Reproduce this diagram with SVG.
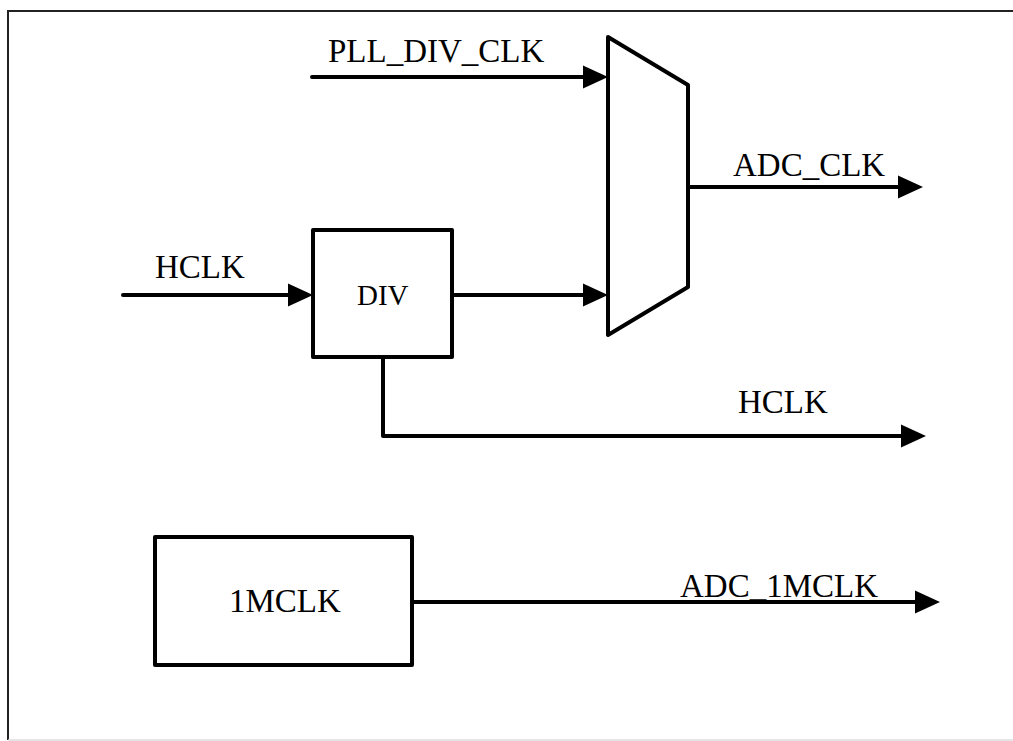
<svg xmlns="http://www.w3.org/2000/svg" width="1013" height="741" viewBox="0 0 1013 741">
<style>
.w{fill:none;stroke:#000;stroke-width:4;stroke-linecap:round;stroke-linejoin:round}
.b{fill:#fff;stroke:#000;stroke-width:4;stroke-linejoin:round}
.t{font-family:"Liberation Serif","Times New Roman",serif;font-size:33px;fill:#000}
</style>
<defs>
<marker id="ah" markerUnits="userSpaceOnUse" markerWidth="26" markerHeight="24" refX="2" refY="12" orient="auto">
<path d="M0,0.5 L25,12 L0,23.5 Z" fill="#000"/>
</marker>
</defs>
<rect width="1013" height="741" fill="#fff"/>
<g id="frame">
<path d="M8,740 L8,11 L1013,11" fill="none" stroke="#222" stroke-width="2"/>
<line x1="8" y1="740" x2="1013" y2="740" stroke="#ddd" stroke-width="1.5"/>
</g>
<g id="connectors">
<line class="w" x1="312" y1="77" x2="585" y2="77" marker-end="url(#ah)"/>
<line class="w" x1="123" y1="295" x2="290" y2="295" marker-end="url(#ah)"/>
<line class="w" x1="452" y1="295" x2="585" y2="295" marker-end="url(#ah)"/>
<line class="w" x1="688" y1="187" x2="900" y2="187" marker-end="url(#ah)"/>
<polyline class="w" points="383,357 383,436 903,436" marker-end="url(#ah)"/>
<line class="w" x1="412" y1="602" x2="917" y2="602" marker-end="url(#ah)"/>
</g>
<g id="mux">
<path class="b" d="M608,37 L688,85 L688,287 L608,335 Z"/>
</g>
<g id="div">
<rect class="b" x="313" y="230" width="139" height="127"/>
<text class="t" x="357" y="305" style="font-size:29px">DIV</text>
</g>
<g id="mclk">
<rect class="b" x="155" y="537" width="257" height="128"/>
<text class="t" x="229" y="612">1MCLK</text>
</g>
<g id="labels">
<text class="t" x="328" y="62">PLL_DIV_CLK</text>
<text class="t" x="733" y="176">ADC_CLK</text>
<text class="t" x="155" y="278">HCLK</text>
<text class="t" x="738" y="413">HCLK</text>
<text class="t" x="680" y="597">ADC_1MCLK</text>
</g>
</svg>
